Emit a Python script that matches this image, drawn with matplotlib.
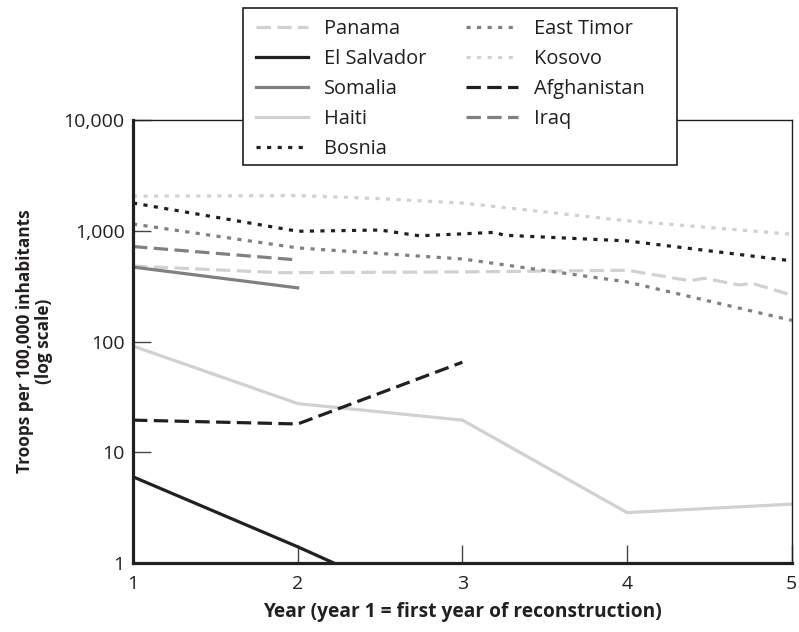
import matplotlib.pyplot as plt
from matplotlib.patches import Rectangle
from matplotlib.ticker import FuncFormatter

plt.rcParams['font.family'] = ['Open Sans', 'DejaVu Sans']

# values (troops per 100,000 inhabitants)
years = [1, 2, 3, 4, 5]
panama_years = [1, 1.9, 3, 4, 4.38, 4.47, 4.68, 4.76, 5]
panama = [480, 418, 425, 440, 354, 372, 324, 335, 262]
el_salvador = [6, 1.4, 0.3]
somalia = [470, 305]
haiti = [91, 27.5, 19.5, 2.85, 3.4]
bosnia_years = [1, 2, 2.5, 2.74, 3.2, 3.25, 4, 5]
bosnia = [1780, 990, 1015, 900, 968, 912, 810, 535]
east_timor = [1150, 700, 556, 345, 155]
kosovo_years = [1, 2, 2.5, 3, 4, 5]
kosovo = [2050, 2080, 1950, 1780, 1230, 930]
afghanistan = [19.5, 18, 65]
iraq = [720, 545]

black = '#231f20'
grey = '#808080'
light = '#d1d1d1'
dots = (0, (1.3, 2.0))
dashes = (0, (4.5, 2.0))
lw = 2.3

fig = plt.figure(figsize=(7.99, 6.32), dpi=100)
ax = fig.add_axes([0.1665, 0.1092, 0.8245, 0.7009])

ax.plot(panama_years, panama, color=light, lw=lw, linestyle=dashes, label='Panama')
ax.plot(years[:3], el_salvador, color=black, lw=lw, label='El Salvador')
ax.plot(years[:2], somalia, color=grey, lw=lw, label='Somalia')
ax.plot(years, haiti, color=light, lw=lw, label='Haiti')
ax.plot(bosnia_years, bosnia, color=black, lw=lw, linestyle=dots, label='Bosnia')
ax.plot(years, east_timor, color=grey, lw=lw, linestyle=dots, label='East Timor')
ax.plot(kosovo_years, kosovo, color=light, lw=lw, linestyle=dots, label='Kosovo')
ax.plot(years[:3], afghanistan, color=black, lw=lw, linestyle=dashes, label='Afghanistan')
ax.plot(years[:2], iraq, color=grey, lw=lw, linestyle=dashes, label='Iraq')

ax.set_yscale('log')
ax.set_xlim(1, 5)
ax.set_ylim(1, 10000)
ax.set_xticks(years)
ax.set_yticks([1, 10, 100, 1000, 10000])
ax.minorticks_off()
ax.yaxis.set_major_formatter(FuncFormatter(lambda v, p: f'{v:,.0f}'))
ax.tick_params(direction='in', length=13, width=1, color='#444444',
               labelsize=14, labelcolor=black)
ax.tick_params(axis='x', pad=9)
ax.tick_params(axis='y', pad=6)

for side in ['left', 'bottom']:
    ax.spines[side].set_linewidth(2.3)
    ax.spines[side].set_color(black)
for side in ['top', 'right']:
    ax.spines[side].set_linewidth(1)
    ax.spines[side].set_color(black)

ax.set_xlabel('Year (year 1 = first year of reconstruction)', fontsize=13.8,
              fontweight='bold', color=black, va='top')
ax.xaxis.set_label_coords(0.5, -0.088)
ax.set_ylabel('Troops per 100,000 inhabitants\n(log scale)', fontsize=12.4,
              fontweight='bold', color=black, linespacing=1.1)
ax.yaxis.set_label_coords(-0.121, 0.5)

# legend box sits over the top spine
fig.patches.append(Rectangle((0.3041, 0.7389), 0.5432, 0.2484,
                             transform=fig.transFigure, facecolor='white',
                             edgecolor=black, linewidth=1.2, zorder=1))
leg = fig.legend(loc='upper left', bbox_to_anchor=(0.309, 0.984), ncol=2,
                 fontsize=14.4, handlelength=2.6, handletextpad=0.8,
                 columnspacing=2.0, labelspacing=0.5, borderpad=0.45,
                 borderaxespad=0, frameon=False)
for t in leg.get_texts():
    t.set_color(black)

fig.savefig('out.png', dpi=100)
